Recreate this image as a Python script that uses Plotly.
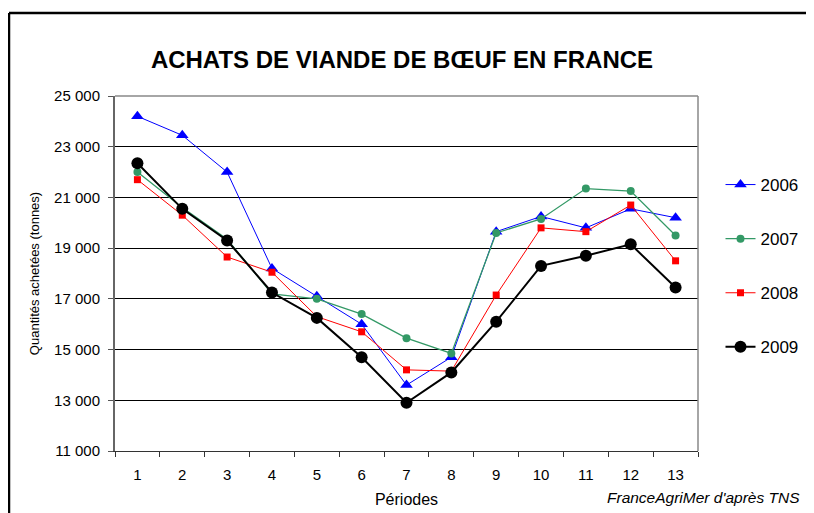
import plotly.graph_objects as go

periods = [str(i) for i in range(1, 14)]
y2006 = [24200, 23450, 22000, 18200, 17100, 16000, 13600, 14700, 19650, 20250, 19800, 20550, 20200]
y2007 = [22000, 20600, 19350, 17200, 17000, 16400, 15450, 14850, 19600, 20150, 21350, 21250, 19500]
y2008 = [21700, 20300, 18650, 18050, 16300, 15700, 14200, 14150, 17150, 19800, 19650, 20700, 18500]
y2009 = [22350, 20550, 19300, 17250, 16250, 14700, 12900, 14100, 16100, 18300, 18700, 19150, 17450]
y_ticks = [11000, 13000, 15000, 17000, 19000, 21000, 23000, 25000]

series = [
    ("2006", y2006, "#0000FF", "triangle-up", 11, 1),
    ("2007", y2007, "#339966", "circle", 8, 1.3),
    ("2008", y2008, "#FF0000", "square", 7, 1),
    ("2009", y2009, "#000000", "circle", 12, 2),
]

# page body adds an 8px offset; layout is expressed in figure pixels
OFF = 8
W, H = 814 - OFF, 513 - OFF
L, T = 115 - OFF, 96 - OFF
PW, PH = 583, 355
R, B = W - L - PW, H - T - PH


def px(xs):
    return (xs - OFF - L) / PW


def py(ys):
    return (T + PH - (ys - OFF)) / PH


fig = go.Figure()
for name, ys, col, sym, msz, lw in series:
    fig.add_trace(go.Scatter(
        x=periods, y=ys, name=name, mode="lines+markers", legendgroup=name,
        line=dict(color=col, width=lw),
        marker=dict(symbol=sym, size=msz, color=col),
    ))

F = "Liberation Sans, Arial, sans-serif"
fig.update_layout(
    width=W, height=H,
    margin=dict(l=L, r=R, t=T, b=B, autoexpand=False),
    paper_bgcolor="white", plot_bgcolor="white",
    font=dict(family=F, color="black"),
    separators=", ",
    title=dict(text="<b>ACHATS DE VIANDE DE BŒUF EN FRANCE</b>", font=dict(size=24, family=F),
               x=(402 - OFF) / W, xref="container", xanchor="center",
               y=1 - (60 - OFF) / H, yref="container", yanchor="middle"),
    showlegend=True,
    legend=dict(x=px(720.5), xanchor="left", y=0.80, yanchor="top", font=dict(size=17, family=F),
                tracegroupgap=29, bgcolor="rgba(0,0,0,0)"),
    xaxis=dict(type="category", range=[-0.5, 12.5], tickson="boundaries", ticks="outside", ticklen=5,
               tickcolor="#333", showline=True, linecolor="#333", linewidth=1, automargin=False,
               showgrid=False, tickfont=dict(size=15), ticklabelstandoff=10,
               title=dict(text="Périodes", font=dict(size=16), standoff=11)),
    yaxis=dict(range=[11000, 25000], tickvals=y_ticks, tickformat=",d", ticks="outside", ticklen=5,
               tickcolor="#555", showline=True, linecolor="#666", linewidth=2, automargin=False,
               showgrid=True, gridcolor="black", gridwidth=1, zeroline=False,
               tickfont=dict(size=15), ticklabelstandoff=5,
               title=dict(text="Quantités achetées (tonnes)", font=dict(size=13), standoff=12)),
)
# plot-area border top/right (gray)
fig.add_shape(type="line", xref="paper", yref="paper", x0=0, x1=1, y0=1, y1=1, line=dict(color="#888", width=1.5))
fig.add_shape(type="line", xref="paper", yref="paper", x0=1, x1=1, y0=0, y1=1, line=dict(color="#888", width=1.5))
# outer frame (left and top edges visible)
fx, fy = px(9), py(13)
fig.add_shape(type="line", xref="paper", yref="paper", x0=fx, x1=fx, y0=fy, y1=-1,
              line=dict(color="black", width=2.5))
fig.add_shape(type="line", xref="paper", yref="paper", x0=fx, x1=2, y0=fy, y1=fy,
              line=dict(color="black", width=2.5))
fig.add_annotation(text="<i>FranceAgriMer d'après TNS</i>", xref="paper", yref="paper",
                   x=px(802), xanchor="right", y=py(497), yanchor="middle",
                   showarrow=False, font=dict(size=15.5, family=F))
fig.write_html("out.html")
